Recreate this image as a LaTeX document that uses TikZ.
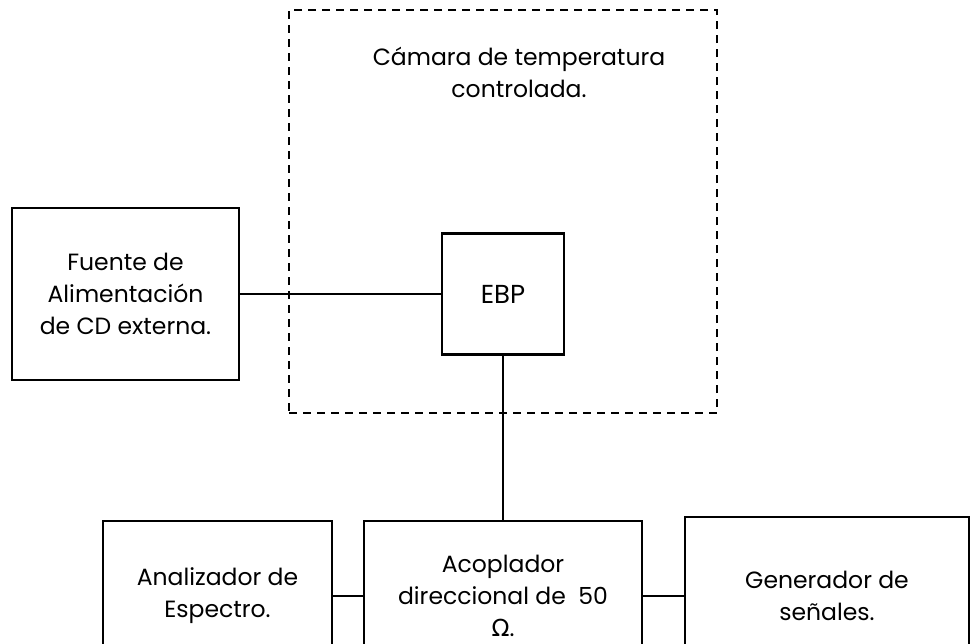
\documentclass[tikz,border=0pt]{standalone}
\usepackage{fontspec}
\setmainfont{Poppins}
\newfontfamily\greekfont{DejaVu Sans}
\begin{document}
\begin{tikzpicture}[x=1pt,y=-1pt,
  blk/.style={draw=black,line width=2.4pt,fill=white,align=center,inner sep=0pt,
    font=\fontsize{23.5}{32}\selectfont},
  wire/.style={draw=black,line width=1.3pt},
  chamberbox/.style={draw=black,line width=2.4pt,dash pattern=on 8pt off 6pt,inner sep=0pt}]
\useasboundingbox (0,0) rectangle (972,643);
\clip (0,0) rectangle (972,643);
\fill[white] (0,0) rectangle (972,643);
\node[chamberbox,minimum width=428pt,minimum height=403pt] (cam) at (503,211.5) {};
\node[align=center,font=\fontsize{23.5}{32}\selectfont] (camtxt) at (519,72) {Cámara de temperatura\\controlada.};
\node[blk,minimum width=227pt,minimum height=172pt] (fue) at (125.5,294) {Fuente de\\Alimentación\\de CD externa.};
\node[blk,minimum width=122pt,minimum height=121pt,font=\fontsize{26}{32}\selectfont] (ebp) at (503,294) {EBP};
\node[blk,minimum width=229pt,minimum height=150pt] (ana) at (217.5,596) {Analizador de\\Espectro.};
\node[blk,minimum width=278pt,minimum height=150pt] (aco) at (503,596) {Acoplador\\direccional de\ \ 50\\{\greekfont Ω}.};
\node[blk,minimum width=284pt,minimum height=158pt] (gen) at (827,596) {Generador de\\señales.};
\draw[wire] (fue.east) -- (ebp.west);
\draw[wire] (ebp.south) -- (aco.north);
\draw[wire] (ana.east) -- (aco.west);
\draw[wire] (aco.east) -- (gen.west);
\end{tikzpicture}
\end{document}
